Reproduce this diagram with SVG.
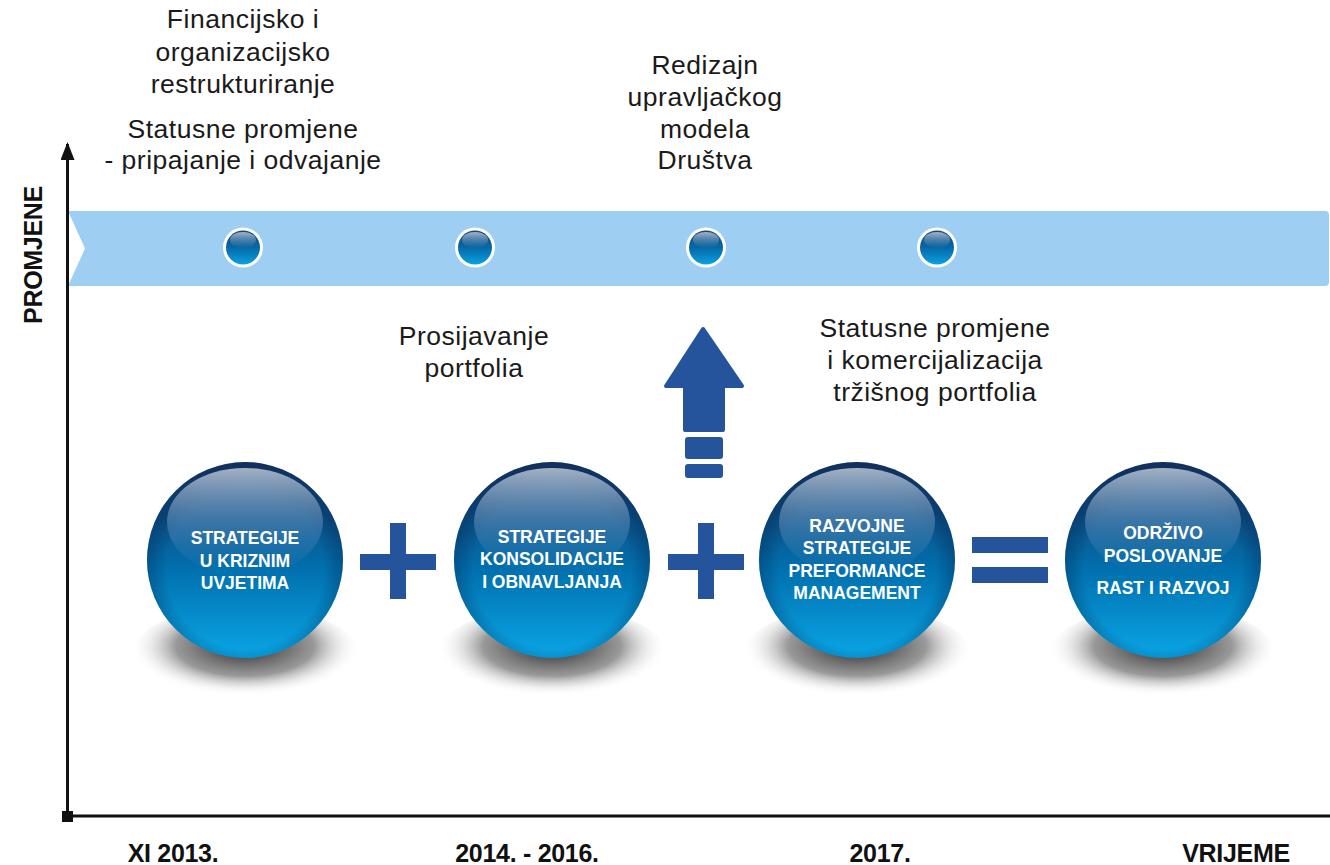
<svg xmlns="http://www.w3.org/2000/svg" width="1330" height="865" viewBox="0 0 1330 865">
<defs>
<linearGradient id="ballBody" x1="0" y1="0" x2="0" y2="1">
<stop offset="0" stop-color="#1a3868"/>
<stop offset="0.25" stop-color="#0d4f86"/>
<stop offset="0.55" stop-color="#0170ae"/>
<stop offset="1" stop-color="#0aa6e6"/>
</linearGradient>
<radialGradient id="ballEdge" cx="0.5" cy="0.55" r="0.5">
<stop offset="0.8" stop-color="#001a40" stop-opacity="0"/>
<stop offset="1" stop-color="#001a40" stop-opacity="0.3"/>
</radialGradient>
<linearGradient id="gloss" x1="0" y1="0" x2="0" y2="1">
<stop offset="0" stop-color="#aab8ca" stop-opacity="0.95"/>
<stop offset="0.45" stop-color="#6f98bf" stop-opacity="0.55"/>
<stop offset="1" stop-color="#3f86c0" stop-opacity="0"/>
</linearGradient>
<radialGradient id="shadow" cx="0.5" cy="0.4" r="0.5">
<stop offset="0" stop-color="#222" stop-opacity="1"/>
<stop offset="0.6" stop-color="#777" stop-opacity="0.75"/>
<stop offset="1" stop-color="#fff" stop-opacity="0"/>
</radialGradient>
<linearGradient id="dotBody" x1="0" y1="0" x2="0" y2="1">
<stop offset="0" stop-color="#1d4677"/>
<stop offset="0.5" stop-color="#0568a6"/>
<stop offset="1" stop-color="#0aa2e2"/>
</linearGradient>
<linearGradient id="dotGloss" x1="0" y1="0" x2="0" y2="1">
<stop offset="0" stop-color="#b0c2d6" stop-opacity="0.9"/>
<stop offset="1" stop-color="#6f9ac2" stop-opacity="0"/>
</linearGradient>
<marker id="axisArrow" viewBox="0 0 18 14" refX="16" refY="7" markerWidth="18" markerHeight="14" markerUnits="userSpaceOnUse" orient="auto">
<path d="M0 0 L18 7 L0 14 Z" fill="#111"/>
</marker>
</defs>
<style>
.lbl{font-family:"Liberation Sans",Arial,sans-serif;font-size:26.5px;fill:#1a1a1a;text-anchor:middle;letter-spacing:0.5px}
.axl{font-family:"Liberation Sans",Arial,sans-serif;font-size:25px;font-weight:bold;fill:#111;text-anchor:middle;letter-spacing:-0.3px}
.bt{font-family:"Liberation Sans",Arial,sans-serif;font-size:17.5px;font-weight:bold;fill:#fff;text-anchor:middle}
.sym{fill:#26549c}
.axis{stroke:#111;stroke-width:3;fill:none}
</style>
<rect width="1330" height="865" fill="#fff"/>

<g id="band">
<path d="M68 211 L1325 211 Q1329 211 1329 215 L1329 282 Q1329 286 1325 286 L68 286 L85 248.5 Z" fill="#9ecff2"/>
</g>

<g id="connectors">
<line class="axis" x1="67.5" y1="816" x2="67.5" y2="144" marker-end="url(#axisArrow)"/>
<line class="axis" x1="67.5" y1="816" x2="1330" y2="816"/>
<rect x="62" y="811" width="11" height="11" fill="#111"/>
</g>

<g id="axis-labels">
<text class="axl" transform="translate(42 255) rotate(-90)">PROMJENE</text>
<text class="axl" x="173" y="862">XI 2013.</text>
<text class="axl" x="527" y="862">2014. - 2016.</text>
<text class="axl" x="880" y="862">2017.</text>
<text class="axl" x="1236" y="862">VRIJEME</text>
</g>

<g id="dot1">
<circle cx="243" cy="247.5" r="20" fill="#fff"/>
<circle cx="243" cy="247.5" r="17" fill="url(#dotBody)"/>
<ellipse cx="243" cy="240" rx="13" ry="8" fill="url(#dotGloss)"/>
</g>
<g id="dot2">
<circle cx="475" cy="247.5" r="20" fill="#fff"/>
<circle cx="475" cy="247.5" r="17" fill="url(#dotBody)"/>
<ellipse cx="475" cy="240" rx="13" ry="8" fill="url(#dotGloss)"/>
</g>
<g id="dot3">
<circle cx="706" cy="247.5" r="20" fill="#fff"/>
<circle cx="706" cy="247.5" r="17" fill="url(#dotBody)"/>
<ellipse cx="706" cy="240" rx="13" ry="8" fill="url(#dotGloss)"/>
</g>
<g id="dot4">
<circle cx="937" cy="247.5" r="20" fill="#fff"/>
<circle cx="937" cy="247.5" r="17" fill="url(#dotBody)"/>
<ellipse cx="937" cy="240" rx="13" ry="8" fill="url(#dotGloss)"/>
</g>

<g id="note-restrukturiranje">
<text class="lbl" x="243" y="28">Financijsko i</text>
<text class="lbl" x="243" y="61">organizacijsko</text>
<text class="lbl" x="243" y="93">restrukturiranje</text>
<text class="lbl" x="243" y="138">Statusne promjene</text>
<text class="lbl" x="243" y="169">- pripajanje i odvajanje</text>
</g>
<g id="note-redizajn">
<text class="lbl" x="705" y="74">Redizajn</text>
<text class="lbl" x="705" y="106">upravljačkog</text>
<text class="lbl" x="705" y="138">modela</text>
<text class="lbl" x="705" y="169">Društva</text>
</g>
<g id="note-prosijavanje">
<text class="lbl" x="474" y="345">Prosijavanje</text>
<text class="lbl" x="474" y="377">portfolia</text>
</g>
<g id="note-komercijalizacija">
<text class="lbl" x="935" y="337">Statusne promjene</text>
<text class="lbl" x="935" y="369">i komercijalizacija</text>
<text class="lbl" x="935" y="401">tržišnog portfolia</text>
</g>

<g id="up-arrow" class="sym">
<path d="M703 329 L742 386 L723 386 L723 430 L685 430 L685 386 L666 386 Z" stroke="#26549c" stroke-width="4" stroke-linejoin="round"/>
<rect x="685" y="437" width="38" height="22" rx="3"/>
<rect x="685" y="464" width="38" height="14" rx="3"/>
</g>

<g id="ball1">
<ellipse cx="245" cy="656" rx="115" ry="50" fill="url(#shadow)"/>
<circle cx="245" cy="560" r="98" fill="url(#ballBody)"/>
<circle cx="245" cy="560" r="98" fill="url(#ballEdge)"/>
<ellipse cx="245" cy="522" rx="78" ry="54" fill="url(#gloss)"/>
<text class="bt" x="245" y="544">STRATEGIJE</text>
<text class="bt" x="245" y="567">U KRIZNIM</text>
<text class="bt" x="245" y="589">UVJETIMA</text>
</g>

<g id="plus1" class="sym">
<rect x="390" y="523" width="16" height="76"/>
<rect x="360" y="554" width="76" height="16"/>
</g>

<g id="ball2">
<ellipse cx="552" cy="656" rx="115" ry="50" fill="url(#shadow)"/>
<circle cx="552" cy="560" r="98" fill="url(#ballBody)"/>
<circle cx="552" cy="560" r="98" fill="url(#ballEdge)"/>
<ellipse cx="552" cy="522" rx="78" ry="54" fill="url(#gloss)"/>
<text class="bt" x="552" y="543">STRATEGIJE</text>
<text class="bt" x="552" y="565">KONSOLIDACIJE</text>
<text class="bt" x="552" y="588">I OBNAVLJANJA</text>
</g>

<g id="plus2" class="sym">
<rect x="698" y="523" width="16" height="76"/>
<rect x="668" y="554" width="76" height="16"/>
</g>

<g id="ball3">
<ellipse cx="857" cy="656" rx="115" ry="50" fill="url(#shadow)"/>
<circle cx="857" cy="560" r="98" fill="url(#ballBody)"/>
<circle cx="857" cy="560" r="98" fill="url(#ballEdge)"/>
<ellipse cx="857" cy="522" rx="78" ry="54" fill="url(#gloss)"/>
<text class="bt" x="857" y="532">RAZVOJNE</text>
<text class="bt" x="857" y="554">STRATEGIJE</text>
<text class="bt" x="857" y="577">PREFORMANCE</text>
<text class="bt" x="857" y="599">MANAGEMENT</text>
</g>

<g id="equals" class="sym">
<rect x="972" y="537" width="76" height="16"/>
<rect x="972" y="567" width="76" height="16"/>
</g>

<g id="ball4">
<ellipse cx="1163" cy="656" rx="115" ry="50" fill="url(#shadow)"/>
<circle cx="1163" cy="560" r="98" fill="url(#ballBody)"/>
<circle cx="1163" cy="560" r="98" fill="url(#ballEdge)"/>
<ellipse cx="1163" cy="522" rx="78" ry="54" fill="url(#gloss)"/>
<text class="bt" x="1163" y="539">ODRŽIVO</text>
<text class="bt" x="1163" y="562">POSLOVANJE</text>
<text class="bt" x="1163" y="594">RAST I RAZVOJ</text>
</g>
</svg>
